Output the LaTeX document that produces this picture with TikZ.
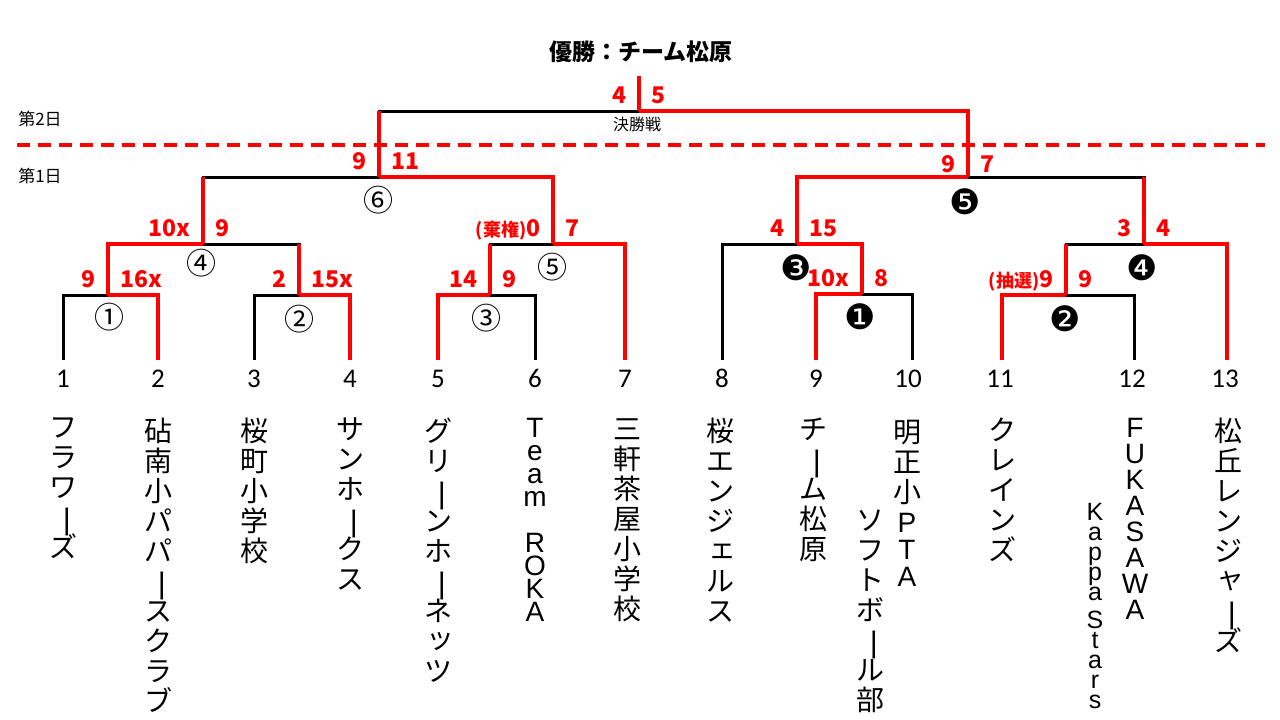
\documentclass[tikz,border=0pt]{standalone}
\usepackage{fontspec}
\setmainfont{Noto Sans CJK JP}
\newfontfamily\tatefont{Noto Sans CJK JP}
\newfontfamily\latinfont{Liberation Sans}
\newfontfamily\seedfont{Carlito}
\newfontfamily\markfont{DejaVu Sans}
\definecolor{winred}{RGB}{255,0,0}
% long vowel mark and small kana as set in vertical text
\newcommand{\chon}{\raisebox{0pt}[22pt][4pt]{\rotatebox[origin=c]{-90}{\scalebox{1.25}[1]{ー}}}}
\newcommand{\kogaki}[1]{\hspace*{5pt}\raisebox{3pt}{#1}}
\begin{document}
\begin{tikzpicture}[x=1pt,y=-1pt,
    lose/.style={line width=3pt},
    win/.style={line width=3.6pt,winred},
    score/.style={text=winred,inner sep=0pt,font=\bfseries\fontsize{23}{23}\selectfont},
    seed/.style={anchor=base,inner sep=0pt,font=\seedfont\fontsize{27}{27}\selectfont},
    matchno/.style={inner sep=0pt,font=\fontsize{30}{30}\selectfont},
    blackno/.style={inner sep=0pt,font=\markfont\fontsize{35}{35}\selectfont},
    team/.style={anchor=north,align=center,inner sep=0pt,font=\tatefont\fontsize{28}{30}\selectfont},
    teamlat/.style={anchor=north,align=center,inner sep=0pt,font=\latinfont\fontsize{28}{26}\selectfont}]
  \fill[white] (0,0) rectangle (1280,720);
  \useasboundingbox (0,0) rectangle (1280,720);

  % title and days
  \node[font=\bfseries\fontsize{23}{23}\selectfont] (title) at (641,52) {優勝：チーム松原};
  \node[font=\fontsize{16}{16}\selectfont] (kessho) at (637,124) {決勝戦};
  \node[font=\fontsize{17}{17}\selectfont] (day2) at (40,119) {第2日};
  \node[font=\fontsize{17}{17}\selectfont] (day1) at (40,176) {第1日};
  \coordinate (dl) at (17,145); \coordinate (dr) at (1265,145);
  \draw[winred,line width=3.3pt,dash pattern=on 13pt off 8pt] (dl) -- (dr);

  % leaves and matches
  \coordinate (l1) at (63,360);   \coordinate (l2) at (158,360);  \coordinate (l3) at (254,360);
  \coordinate (l4) at (350,360);  \coordinate (l5) at (438,360);  \coordinate (l6) at (535,360);
  \coordinate (l7) at (625,360);  \coordinate (l8) at (722,360);  \coordinate (l9) at (816,360);
  \coordinate (l10) at (912,360); \coordinate (l11) at (1002,360); \coordinate (l12) at (1134,360);
  \coordinate (l13) at (1227,360);
  \coordinate (m1) at (108,295); \coordinate (m2) at (299,295); \coordinate (m3) at (490,295);
  \coordinate (m4) at (203,244); \coordinate (m5) at (553,244); \coordinate (m6) at (379,177);
  \coordinate (k1) at (862,294); \coordinate (k2) at (1066,295); \coordinate (k3) at (797,244);
  \coordinate (k4) at (1144,244); \coordinate (k5) at (968,177);
  \coordinate (fin) at (639,111); \coordinate (top) at (639,76);

  % lost lines
  \draw[lose] (l1) |- (m1);  \draw[lose] (l3) |- (m2);  \draw[lose] (m2) |- (m4);
  \draw[lose] (l6) |- (m3);  \draw[lose] (m3) |- (m5);  \draw[lose] (m4) |- (m6);
  \draw[lose] (l10) |- (k1); \draw[lose] (l8) |- (k3);  \draw[lose] (l12) |- (k2);
  \draw[lose] (k2) |- (k4);  \draw[lose] (k4) |- (k5);  \draw[lose] (m6) |- (fin);
  % won lines
  \draw[win] (l2) |- (m1);  \draw[win] (l4) |- (m2);  \draw[win] (m1) |- (m4);
  \draw[win] (l5) |- (m3);  \draw[win] (l7) |- (m5);  \draw[win] (m5) |- (m6);
  \draw[win] (l9) |- (k1);  \draw[win] (k1) |- (k3);  \draw[win] (l11) |- (k2);
  \draw[win] (l13) |- (k4); \draw[win] (k3) |- (k5);  \draw[win] (k5) |- (fin);
  \draw[win] (fin) -- (top);
  \draw[win] (m2) -- (m2 |- m4); \draw[win] (m3) -- (m3 |- m5); \draw[win] (m4) -- (m4 |- m6);
  \draw[win] (k2) -- (k2 |- k4); \draw[win] (k4) -- (k4 |- k5); \draw[win] (m6) -- (m6 |- fin);

  % scores
  \node[score,anchor=base east] (s1l) at ([shift={(-12.5,-7.5)}]m1) {9};
  \node[score,anchor=base west] (s1r) at ([shift={(12.5,-7.5)}]m1) {16x};
  \node[score,anchor=base east] (s2l) at ([shift={(-12.5,-7.5)}]m2) {2};
  \node[score,anchor=base west] (s2r) at ([shift={(12.5,-7.5)}]m2) {15x};
  \node[score,anchor=base east] (s3l) at ([shift={(-12.5,-7.5)}]m3) {14};
  \node[score,anchor=base west] (s3r) at ([shift={(12.5,-7.5)}]m3) {9};
  \node[score,anchor=base east] (s4l) at ([shift={(-12.5,-7.5)}]m4) {10x};
  \node[score,anchor=base west] (s4r) at ([shift={(12.5,-7.5)}]m4) {9};
  \node[score,anchor=base east] (s5l) at ([shift={(-12.5,-7.5)}]m5) {{\fontsize{18}{18}\selectfont(棄権)}0};
  \node[score,anchor=base west] (s5r) at ([shift={(12.5,-7.5)}]m5) {7};
  \node[score,anchor=base east] (s6l) at ([shift={(-12.5,-7.5)}]m6) {9};
  \node[score,anchor=base west] (s6r) at ([shift={(12.5,-7.5)}]m6) {11};
  \node[score,anchor=base east] (t1l) at ([shift={(-12.5,-7.5)}]k1) {10x};
  \node[score,anchor=base west] (t1r) at ([shift={(12.5,-7.5)}]k1) {8};
  \node[score,anchor=base east] (t2l) at ([shift={(-12.5,-7.5)}]k2) {{\fontsize{18}{18}\selectfont(抽選)}9};
  \node[score,anchor=base west] (t2r) at ([shift={(12.5,-7.5)}]k2) {9};
  \node[score,anchor=base east] (t3l) at ([shift={(-12.5,-7.5)}]k3) {4};
  \node[score,anchor=base west] (t3r) at ([shift={(12.5,-7.5)}]k3) {15};
  \node[score,anchor=base east] (t4l) at ([shift={(-12.5,-7.5)}]k4) {3};
  \node[score,anchor=base west] (t4r) at ([shift={(12.5,-7.5)}]k4) {4};
  \node[score,anchor=base east] (t5l) at ([shift={(-12.5,-5)}]k5) {9};
  \node[score,anchor=base west] (t5r) at ([shift={(12.5,-5)}]k5) {7};
  \node[score,anchor=base east] (fl) at ([shift={(-12.5,-7.5)}]fin) {4};
  \node[score,anchor=base west] (fr) at ([shift={(12.5,-7.5)}]fin) {5};

  % match numbers
  \node[matchno] (r1) at (109,317) {①}; \node[matchno] (r2) at (299,319) {②};
  \node[matchno] (r3) at (486,318) {③}; \node[matchno] (r4) at (201,263) {④};
  \node[matchno] (r5) at (552,267) {⑤}; \node[matchno] (r6) at (378,200) {⑥};
  \node[blackno] (b1) at (860,317) {❶}; \node[blackno] (b2) at (1065,319) {❷};
  \node[blackno] (b3) at (796,268) {❸}; \node[blackno] (b4) at (1142,268) {❹};
  \node[blackno] (b5) at (965,202) {❺};

  % seeds
  \node[seed] (d1) at (63,387) {1};    \node[seed] (d2) at (158,387) {2};   \node[seed] (d3) at (254,387) {3};
  \node[seed] (d4) at (350,387) {4};   \node[seed] (d5) at (438,387) {5};   \node[seed] (d6) at (535,387) {6};
  \node[seed] (d7) at (625,387) {7};   \node[seed] (d8) at (722,387) {8};   \node[seed] (d9) at (816,387) {9};
  \node[seed] (d10) at (908,387) {10}; \node[seed] (d11) at (1000,387) {11}; \node[seed] (d12) at (1132,387) {12};
  \node[seed] (d13) at (1225,387) {13};

  % team names
  \node[team] (n1) at (63,418) {フ\\ラ\\ワ\\\chon\\ズ};
  \node[team] (n2) at (158,418) {砧\\南\\小\\パ\\パ\\\chon\\ス\\ク\\ラ\\ブ};
  \node[team] (n3) at (254,418) {桜\\町\\小\\学\\校};
  \node[team] (n4) at (350,418) {サ\\ン\\ホ\\\chon\\ク\\ス};
  \node[team] (n5) at (438,418) {グ\\リ\\\chon\\ン\\ホ\\\chon\\ネ\\\kogaki{ッ}\\ツ};
  \node[teamlat,font=\latinfont\fontsize{28}{23}\selectfont] (n6) at (535,418) {T\\e\\a\\m\\[23pt]R\\O\\K\\A};
  \node[team] (n7) at (627,418) {三\\軒\\茶\\屋\\小\\学\\校};
  \node[team] (n8) at (720,418) {桜\\エ\\ン\\ジ\\\kogaki{ェ}\\ル\\ス};
  \node[team] (n9) at (813,418) {チ\\\chon\\ム\\松\\原};
  \node[team] (n10) at (907,420) {明\\正\\小\\{\latinfont P}\\[-3pt]{\latinfont T}\\[-3pt]{\latinfont A}};
  \node[team] (n10b) at (870,510) {ソ\\フ\\ト\\ボ\\\chon\\ル\\部};
  \node[team] (n11) at (1002,418) {ク\\レ\\イ\\ン\\ズ};
  \node[teamlat] (n12) at (1135,418) {F\\U\\K\\A\\S\\A\\W\\A};
  \node[teamlat,font=\latinfont\fontsize{25}{20}\selectfont] (n12b) at (1095,503) {K\\a\\p\\p\\a\\[8pt]S\\t\\a\\r\\s};
  \node[team] (n13) at (1228,418) {松\\丘\\レ\\ン\\ジ\\\kogaki{ャ}\\\chon\\ズ};
\end{tikzpicture}
\end{document}
